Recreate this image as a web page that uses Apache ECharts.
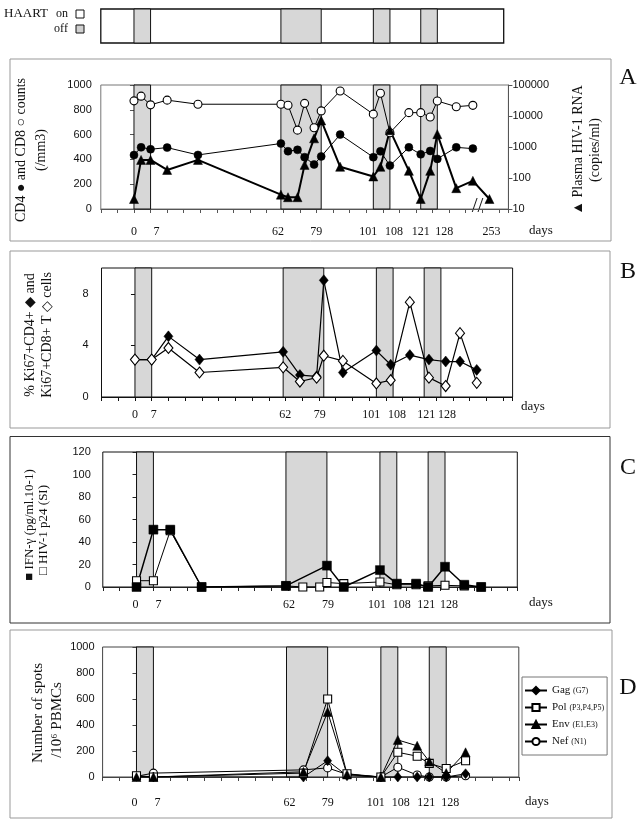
<!DOCTYPE html>
<html><head><meta charset="utf-8">
<script src="https://cdn.jsdelivr.net/npm/echarts@6/dist/echarts.min.js"></script>
<style>html,body{margin:0;padding:0;background:#fff}#c{width:642px;height:827px}</style>
</head><body><div id="c"></div>
<script>
// ---------- shared ----------
const offPeriods = [[0,7],[62,79],[101,108],[121,128]];
const dayTickLabels = [0,7,62,79,101,108,121,128];
const BREAK_DAY = 253;   // last sample, drawn after the axis break
const BREAK_POS = 150;   // axis position used for the broken segment

// ---------- panel A ----------
const aCellDays = [0,3,7,14,27,62,65,69,72,76,79,87,101,104,108,116,121,125,128,136,143];
const aCD4 = [435,497,482,495,436,528,466,477,418,359,424,600,418,465,350,497,441,468,404,497,487];
const aCD8 = [872,910,840,878,845,845,837,636,852,655,791,952,765,933,615,777,777,742,871,825,836];
const aRnaDays = [0,3,7,14,27,62,65,69,72,76,79,87,101,104,108,116,121,125,128,136,143,253];
const aRNA = [21,383,383,182,383,29,24,24,265,1900,7200,230,112,230,3500,170,21,170,2600,47,81,21];

// ---------- panel B ----------
const bDays = [0,7,14,27,62,69,76,79,87,101,107,115,123,130,136,143];
const bKiCD4 = [2.9,2.9,4.7,2.9,3.5,1.7,1.6,9.05,1.9,3.6,2.5,3.25,2.9,2.75,2.75,2.1];
const bKiCD8 = [2.9,2.9,3.8,1.9,2.3,1.2,1.5,3.2,2.8,1.05,1.3,7.35,1.5,0.85,4.95,1.1];

// ---------- panel C ----------
const cIfnDays = [0,7,14,27,62,79,86,101,108,116,121,128,136,143];
const cIFN = [0,51,51,0,1,19,0,15,3,3,0,18,2,0];
const cP24Days = [0,7,14,27,62,69,76,79,86,101,108,116,121,128,136,143];
const cP24 = [5.6,5.6,50,0,1,0,0,4,3,4.5,2,2,1,1.5,1,0];

// ---------- panel D ----------
const dDays = [0,7,69,79,87,101,108,116,121,128,136];
const dGag = [5,0,0,125,10,0,0,0,0,0,25];
const dPol = [10,0,30,600,25,0,190,160,105,65,125];
const dEnv = [0,0,40,500,20,0,285,240,120,30,190];
const dNef = [5,30,55,70,20,0,75,15,0,0,10];
const dNames = ['Gag (G7)','Pol (P3,P4,P5)','Env (E1,E3)','Nef (N1)'];

// ---------- style helpers ----------
const SERIF = '"Liberation Serif","DejaVu Serif",serif';
const SANS = '"Liberation Sans","DejaVu Sans",sans-serif';
const X_MIN = -14, X_MAX = 158, WEEK = 7;
const axisPos = d => d === BREAK_DAY ? BREAK_POS : d;
const pairs = (xs, ys) => xs.map((d, i) => [axisPos(d), ys[i]]);

// hand-placed day labels in the original: small horizontal nudges (px) per label
const nudgeA = {7:6, 62:-3, 79:-5, 101:-5, 108:4, 121:0, 128:7, 150:2};
const nudgeB = {7:2, 62:2, 79:-4, 101:-5, 108:4, 121:2, 128:6};
const nudgeC = {0:-1, 7:5, 62:3, 79:1, 101:-3, 108:5, 121:-2, 128:4};
const nudgeD = {0:-2, 7:4, 62:3, 79:0, 101:-5, 108:3, 121:-3, 128:4};
const labelRich = (() => {
  const r = {c:{fontFamily:SERIF, fontSize:12, color:'#111'}};
  for (let n = 1; n <= 10; n++) {
    r['r'+n] = {fontFamily:SERIF, fontSize:12, color:'#111', padding:[0,0,0,2*n]};
    r['l'+n] = {fontFamily:SERIF, fontSize:12, color:'#111', padding:[0,2*n,0,0]};
  }
  return r;
})();

function dayAxis(gi, margin, labels, color, nudge) {
  return { type:'value', gridIndex:gi, min:X_MIN, max:X_MAX, interval:WEEK,
    axisLine:{show:true, onZero:false, lineStyle:{color, width:1}},
    axisTick:{show:true, length:4, lineStyle:{color}},
    splitLine:{show:false},
    axisLabel:{customValues:labels, margin, fontFamily:SERIF, fontSize:12, color:'#111',
      showMinLabel:true, showMaxLabel:true, hideOverlap:false, rich:labelRich,
      formatter:v => {
        const t = v === BREAK_POS ? String(BREAK_DAY) : String(v);
        const n = nudge[v] || 0;
        return n > 0 ? `{r${n}|${t}}` : n < 0 ? `{l${-n}|${t}}` : `{c|${t}}`;
      }} };
}
function valAxis(gi, max, interval, margin, color, showMax) {
  return { type:'value', gridIndex:gi, min:0, max, interval,
    axisLine:{show:true, lineStyle:{color}},
    axisTick:{show:true, length:4, lineStyle:{color}},
    splitLine:{show:false},
    axisLabel:{margin, fontFamily:SANS, fontSize:11, color:'#111', showMaxLabel:showMax,
      formatter:v => String(v)} };
}
function bands(xi, yi) {
  return { type:'line', xAxisIndex:xi, yAxisIndex:yi, data:[], silent:true, z:1,
    markArea:{silent:true, itemStyle:{color:'#d7d7d7', borderColor:'#111', borderWidth:1},
      data: offPeriods.map(([a,b]) => [{xAxis:a},{xAxis:b}])} };
}
function line(name, xi, yi, data, symbol, size, filled, width) {
  return { type:'line', name, xAxisIndex:xi, yAxisIndex:yi, data, symbol, symbolSize:size,
    showAllSymbol:true, z:3,
    lineStyle:{color:'#000', width},
    itemStyle:{color: filled ? '#000' : '#fff', borderColor:'#000', borderWidth: filled ? 0.5 : 1.1} };
}
function vtext(x, y, text, size) {
  return { type:'text', x, y, rotation:Math.PI/2,
    style:{text, font:`${size}px ${SERIF}`, fill:'#111', textAlign:'center', textVerticalAlign:'middle', align:'center', verticalAlign:'middle'} };
}
function htext(x, y, text, size, family, align) {
  return { type:'text', x, y,
    style:{text, font:`${size}px ${family||SERIF}`, fill:'#111', textAlign:align||'center', textVerticalAlign:'middle', align:align||'center', verticalAlign:'middle'} };
}
function box(x, y, w, h, stroke, lw, fill) {
  return { type:'rect', shape:{x, y, width:w, height:h}, z:-10,
    style:{fill: fill || 'none', stroke, lineWidth: lw || 1} };
}

const chart = echarts.init(document.getElementById('c'), null, {renderer:'canvas'});
const option = {
  animation:false,
  backgroundColor:'#fff',
  grid:[
    {left:100.8, top:9, width:402.9, height:34, show:true, borderColor:'#111', borderWidth:1.3, backgroundColor:'#fff'},
    {left:100.8, top:85, width:407.6, height:124, show:true, borderColor:'#777', borderWidth:1},
    {left:101.5, top:268, width:411.1, height:129, show:true, borderColor:'#111', borderWidth:1},
    {left:102.8, top:452, width:414.5, height:135, show:true, borderColor:'#111', borderWidth:1},
    {left:102.6, top:647, width:416.2, height:130, show:true, borderColor:'#444', borderWidth:1}
  ],
  xAxis:[
    {type:'value', gridIndex:0, min:X_MIN, max:156, show:false},
    dayAxis(1, 17, dayTickLabels.concat([BREAK_POS]), '#555', nudgeA),
    dayAxis(2, 12, dayTickLabels, '#111', nudgeB),
    dayAxis(3, 12, dayTickLabels, '#222', nudgeC),
    dayAxis(4, 20, dayTickLabels, '#444', nudgeD)
  ],
  yAxis:[
    {type:'value', gridIndex:0, min:0, max:1, show:false},
    valAxis(1, 1000, 200, 9, '#555', true),
    {type:'log', gridIndex:1, position:'right', min:10, max:100000, logBase:10,
      axisLine:{show:true, lineStyle:{color:'#555'}}, axisTick:{show:true, length:4, lineStyle:{color:'#555'}},
      splitLine:{show:false}, minorTick:{show:false},
      axisLabel:{margin:4, fontFamily:SANS, fontSize:11, color:'#111', formatter:v => String(Math.round(v))}},
    valAxis(2, 10, 4, 13, '#111', false),
    valAxis(3, 120, 20, 12, '#222', true),
    valAxis(4, 1000, 200, 8, '#444', true)
  ],
  legend:{
    data:dNames, orient:'vertical', left:522, top:677, selectedMode:false,
    borderColor:'#777', borderWidth:1, padding:[8,3,8,2], itemGap:6, itemWidth:22, itemHeight:9,
    textStyle:{fontFamily:SERIF, fontSize:11, color:'#111',
      rich:{a:{fontFamily:SERIF, fontSize:11, color:'#111'}, b:{fontFamily:SERIF, fontSize:8, color:'#111'}}},
    formatter: n => { const i = n.indexOf(' '); return `{a|${n.slice(0,i)}} {b|${n.slice(i+1)}}`; }
  },
  series:[
    bands(0,0),
    bands(1,1),
    line('CD4', 1, 1, pairs(aCellDays, aCD4), 'circle', 8, true, 1),
    line('CD8', 1, 1, pairs(aCellDays, aCD8), 'circle', 8, false, 1),
    line('HIV-1 RNA', 1, 2, pairs(aRnaDays, aRNA), 'triangle', 9, true, 2),
    bands(2,3),
    line('Ki67+CD4+', 2, 3, pairs(bDays, bKiCD4), 'diamond', [9,11], true, 1.2),
    line('Ki67+CD8+', 2, 3, pairs(bDays, bKiCD8), 'diamond', [9,11], false, 1.2),
    bands(3,4),
    line('HIV-1 p24', 3, 4, pairs(cP24Days, cP24), 'rect', 8, false, 1),
    line('IFN-γ', 3, 4, pairs(cIfnDays, cIFN), 'rect', 9, true, 1.5),
    bands(4,5),
    line(dNames[3], 4, 5, pairs(dDays, dNef), 'circle', 8, false, 1),
    line(dNames[0], 4, 5, pairs(dDays, dGag), 'diamond', [8,10], true, 1),
    line(dNames[1], 4, 5, pairs(dDays, dPol), 'rect', 8, false, 1),
    line(dNames[2], 4, 5, pairs(dDays, dEnv), 'triangle', 9, true, 1)
  ],
  graphic:{elements:[
    // HAART key
    htext(4, 14, 'HAART', 13, SERIF, 'left'),
    htext(62, 14, 'on', 12),
    box(76, 10, 8, 8, '#111', 1, '#fff'),
    htext(61, 29, 'off', 12),
    box(76, 25, 8, 8, '#111', 1, '#d0d0d0'),
    // panel frames
    box(10, 59, 601, 182, '#999', 1),
    box(10, 251, 600, 177, '#999', 1),
    box(10, 436.5, 600, 186.5, '#333', 1),
    box(10, 630, 602, 188, '#999', 1),
    // panel letters
    htext(628, 78, 'A', 24), htext(628, 272, 'B', 24), htext(628, 468, 'C', 24), htext(628, 688, 'D', 24),
    // "days"
    htext(541, 231, 'days', 13), htext(533, 407, 'days', 13), htext(541, 603, 'days', 13), htext(537, 802, 'days', 13),
    // axis titles
    vtext(21, 150, 'CD4 ● and CD8 ○ counts', 14),
    vtext(41, 150, '(/mm3)', 14),
    vtext(578, 150, '▲ Plasma HIV-1 RNA', 14),
    vtext(595, 150, '(copies/ml)', 14),
    vtext(30, 335, '% Ki67+CD4+ ◆ and', 14),
    vtext(47, 335, 'Ki67+CD8+ T ◇ cells', 14),
    vtext(30, 525, '■ IFN-γ (pg/ml.10-1)', 13),
    vtext(44, 530, '□ HIV-1 p24 (SI)', 13),
    vtext(38, 713, 'Number of spots', 15),
    vtext(57, 720, '/10⁶ PBMCs', 15)
  ]}
};
chart.setOption(option);
// axis-break mark between day 143 and day 253
const bp = chart.convertToPixel({xAxisIndex:1, yAxisIndex:1}, [145, 0]);
chart.setOption({graphic:{elements:[
  {id:'brk', type:'text', x:bp[0], y:bp[1] - 3,
   style:{text:'//', font:`21px ${SERIF}`, fill:'#111', textAlign:'center', textVerticalAlign:'middle', align:'center', verticalAlign:'middle'}}
]}});
</script>
</body></html>
